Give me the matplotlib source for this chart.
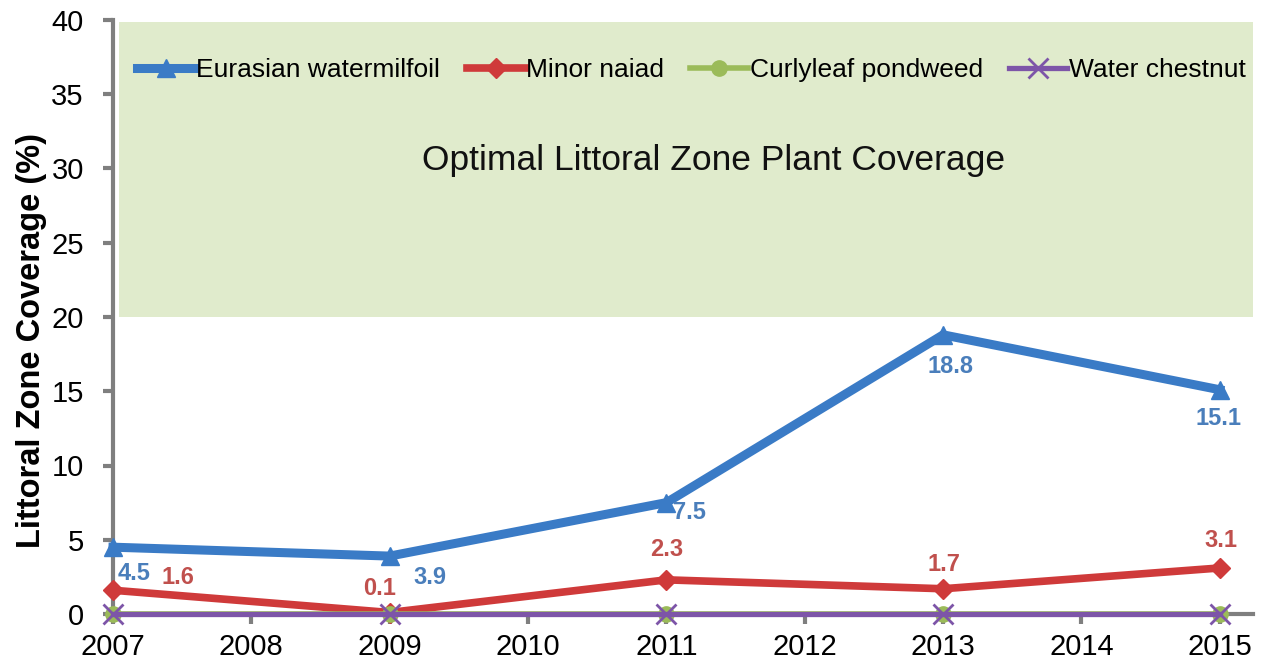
import matplotlib
matplotlib.use("Agg")
import matplotlib.pyplot as plt
from matplotlib.patches import Rectangle

# Survey years and littoral zone coverage (%) per species
years = [2007, 2009, 2011, 2013, 2015]
watermilfoil = [4.5, 3.9, 7.5, 18.8, 15.1]
minor_naiad = [1.6, 0.1, 2.3, 1.7, 3.1]
curlyleaf = [0, 0, 0, 0, 0]
water_chestnut = [0, 0, 0, 0, 0]

x_ticks = list(range(2007, 2016))
y_ticks = [0, 5, 10, 15, 20, 25, 30, 35, 40]
optimal_range = (20, 40)

# Label offsets (pixels) for the value annotations
milfoil_offsets = [(21, -26), (40, -21), (23, -10), (7, -32), (-1, -29)]
naiad_offsets = [(65, 13), (-10, 24), (0, 30), (1, 24), (1, 27)]

plt.rcParams['font.family'] = ['Liberation Sans', 'DejaVu Sans']

fig = plt.figure(figsize=(12.67, 6.68), dpi=100)
ax = fig.add_axes([113 / 1267, 1 - 614 / 668, (1253 - 113) / 1267, (614 - 20) / 668])

x_max = 2015.24
ax.set_xlim(2007, x_max)
ax.set_ylim(0, 40)

# Shaded band for the optimal plant coverage range
band = Rectangle((2007.04, optimal_range[0]), x_max - 2007.04,
                 optimal_range[1] - optimal_range[0] - 0.15,
                 facecolor='#e0ebcc', edgecolor='none', zorder=0)
ax.add_patch(band)
ax.text(2011.34, 30.57, 'Optimal Littoral Zone Plant Coverage',
        ha='center', va='center', fontsize=25.5, color='#111111')

blue = '#3a7bc6'
red = '#cf3a3a'
green = '#9bbb59'
purple = '#7d55a8'

ax.plot(years, watermilfoil, color=blue, lw=6.5, marker='^', ms=13,
        label='Eurasian watermilfoil', clip_on=False, zorder=3)
ax.plot(years, minor_naiad, color=red, lw=5.5, marker='D', ms=10,
        label='Minor naiad', clip_on=False, zorder=4)
ax.plot(years, curlyleaf, color=green, lw=4, marker='o', ms=11,
        label='Curlyleaf pondweed', clip_on=False, zorder=5)
ax.plot(years, water_chestnut, color=purple, lw=3.8, marker='x', ms=14,
        mew=2, label='Water chestnut', clip_on=False, zorder=6)

for x, y, (dx, dy) in zip(years, watermilfoil, milfoil_offsets):
    ax.annotate(f'{y:.1f}', (x, y), xytext=(dx * 0.72, dy * 0.72),
                textcoords='offset points', ha='center', va='center',
                fontsize=17, fontweight='bold', color='#4a7ebb', zorder=7)
for x, y, (dx, dy) in zip(years, minor_naiad, naiad_offsets):
    ax.annotate(f'{y:.1f}', (x, y), xytext=(dx * 0.72, dy * 0.72),
                textcoords='offset points', ha='center', va='center',
                fontsize=17, fontweight='bold', color='#c0504d', zorder=7)

ax.set_xticks(x_ticks)
ax.set_yticks(y_ticks)
ax.tick_params(axis='both', labelsize=21, colors='#7f7f7f', labelcolor='black',
               direction='out', length=7, width=3)
ax.tick_params(axis='x', pad=7)
ax.tick_params(axis='y', pad=14)

for side in ('top', 'right'):
    ax.spines[side].set_visible(False)
for side in ('left', 'bottom'):
    ax.spines[side].set_color('#7f7f7f')
    ax.spines[side].set_linewidth(3)

ax.set_ylabel('Littoral Zone Coverage (%)', fontsize=23.5, fontweight='bold')
ax.yaxis.set_label_coords(-0.058, 0.461)

ax.legend(loc='center left', bbox_to_anchor=(0.021, 0.916), ncol=4, frameon=False,
          fontsize=19, handlelength=2.2, handletextpad=0.05, columnspacing=1.0,
          borderaxespad=0, borderpad=0)

fig.savefig('out.png', dpi=100)
